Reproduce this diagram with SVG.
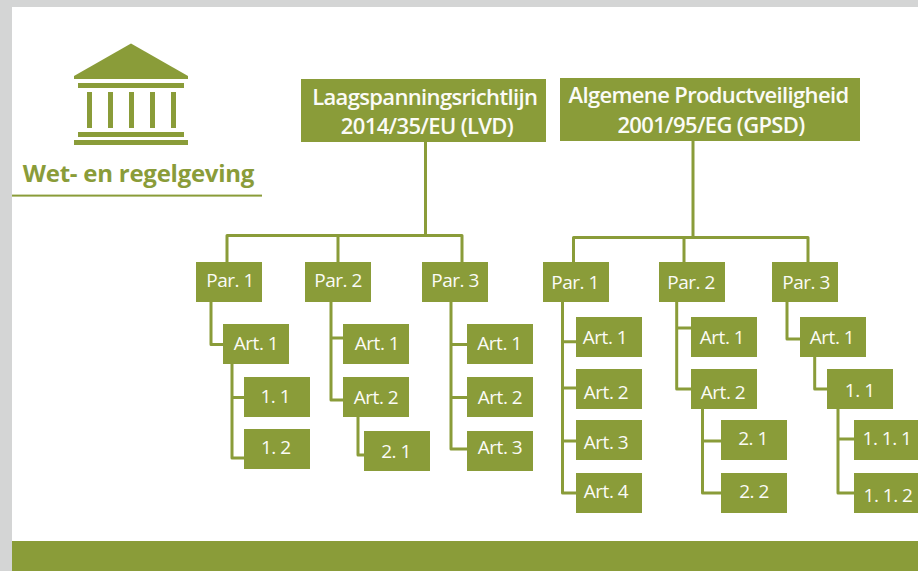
<svg xmlns="http://www.w3.org/2000/svg" width="918" height="571" viewBox="0 0 918 571">
<style>
.b{fill:#8a9c39}
.n text{font-family:"Open Sans","Liberation Sans",sans-serif;font-size:19px;fill:#fbfbf6;text-anchor:middle;letter-spacing:-.5px}
.t text{font-family:"Open Sans","Liberation Sans",sans-serif;font-size:22px;font-weight:600;fill:#fbfbf6;text-anchor:middle;letter-spacing:-.65px}
#connectors path{fill:none;stroke:#8a9c39;stroke-width:3;stroke-linejoin:round}
</style>
<rect width="918" height="571" fill="#d4d5d5"/>
<rect x="12" y="7" width="906" height="564" fill="#fff"/>
<rect class="b" x="12" y="541" width="906" height="30"/>
<g id="icon" class="b">
<polygon points="131,43.5 188,76 188,79 74,79 74,76"/>
<rect x="78" y="83" width="106" height="5"/>
<rect x="87" y="92" width="5" height="36"/><rect x="108" y="92" width="5" height="36"/><rect x="129" y="92" width="5" height="36"/><rect x="150" y="92" width="5" height="36"/><rect x="171" y="92" width="5" height="36"/>
<rect x="78" y="132" width="106" height="5"/>
<rect x="74" y="140" width="114" height="5"/>
</g>
<g id="heading">
<text x="138.5" y="182" font-family="'Open Sans','Liberation Sans',sans-serif" font-size="24" font-weight="700" fill="#8a9c39" text-anchor="middle" letter-spacing="-.25">Wet- en regelgeving</text>
<rect class="b" x="12" y="194.6" width="250" height="2"/>
</g>
<g id="connectors">
<path d="M425.5 141V235.5M227 262V235.5H462V262M338 235.5V262"/>
<path d="M211 302V344.5H223M232 364V458H244M232 397.5H244"/>
<path d="M331 302V400H343M331 338H343M358 417V455H364"/>
<path d="M451 302V449H467M451 344.5H467M451 397.5H467"/>
<path d="M693 141V237.5M573.5 262V237.5H808V262M684 237.5V262"/>
<path d="M562.5 302V493H576M562.5 341.7H576M562.5 388H576M562.5 441H576"/>
<path d="M676.7 302V389H691M676.7 328H691M702.5 409V493H721M702.5 441H721"/>
<path d="M787 302V339H800M814.7 357V389H827M838 409V493H854M838 439H854"/>
</g>
<g id="lvd" class="t"><rect class="b" x="301" y="79" width="245" height="63"/><text x="424.7" y="105">Laagspanningsrichtlijn</text><text x="427" y="134">2014/35/EU (LVD)</text></g>
<g id="gpsd" class="t"><rect class="b" x="560" y="78" width="300" height="63"/><text x="708.5" y="103">Algemene Productveiligheid</text><text x="711" y="133">2001/95/EG (GPSD)</text></g>
<g id="l-par1" class="n"><rect class="b" x="196" y="262" width="66" height="40"/><text x="230" y="287">Par. 1</text></g>
<g id="l-par2" class="n"><rect class="b" x="305" y="262" width="66" height="40"/><text x="338" y="287">Par. 2</text></g>
<g id="l-par3" class="n"><rect class="b" x="422" y="262" width="66" height="40"/><text x="455" y="287">Par. 3</text></g>
<g id="l-p1-art1" class="n"><rect class="b" x="223" y="324" width="66" height="40"/><text x="256" y="350">Art. 1</text></g>
<g id="l-p1-11" class="n"><rect class="b" x="244" y="377" width="66" height="40"/><text x="275.3" y="403">1. 1</text></g>
<g id="l-p1-12" class="n"><rect class="b" x="244" y="429" width="66" height="40"/><text x="275.8" y="454">1. 2</text></g>
<g id="l-p2-art1" class="n"><rect class="b" x="343" y="324" width="66" height="40"/><text x="377" y="350">Art. 1</text></g>
<g id="l-p2-art2" class="n"><rect class="b" x="343" y="377" width="66" height="40"/><text x="376" y="404">Art. 2</text></g>
<g id="l-p2-21" class="n"><rect class="b" x="364" y="431" width="66" height="40"/><text x="396" y="458">2. 1</text></g>
<g id="l-p3-art1" class="n"><rect class="b" x="467" y="324" width="66" height="40"/><text x="499.5" y="350">Art. 1</text></g>
<g id="l-p3-art2" class="n"><rect class="b" x="467" y="377" width="66" height="40"/><text x="500" y="404">Art. 2</text></g>
<g id="l-p3-art3" class="n"><rect class="b" x="467" y="431" width="66" height="40"/><text x="500" y="454">Art. 3</text></g>
<g id="g-par1" class="n"><rect class="b" x="543" y="262" width="66" height="40"/><text x="575" y="289">Par. 1</text></g>
<g id="g-par2" class="n"><rect class="b" x="659" y="262" width="66" height="40"/><text x="691" y="289">Par. 2</text></g>
<g id="g-par3" class="n"><rect class="b" x="772" y="262" width="66" height="40"/><text x="806" y="289">Par. 3</text></g>
<g id="g-p1-art1" class="n"><rect class="b" x="576" y="317" width="66" height="40"/><text x="605" y="344">Art. 1</text></g>
<g id="g-p1-art2" class="n"><rect class="b" x="576" y="369" width="66" height="40"/><text x="606" y="399">Art. 2</text></g>
<g id="g-p1-art3" class="n"><rect class="b" x="576" y="420" width="66" height="40"/><text x="606" y="449">Art. 3</text></g>
<g id="g-p1-art4" class="n"><rect class="b" x="576" y="473" width="66" height="40"/><text x="606" y="498">Art. 4</text></g>
<g id="g-p2-art1" class="n"><rect class="b" x="691" y="317" width="66" height="40"/><text x="722" y="344">Art. 1</text></g>
<g id="g-p2-art2" class="n"><rect class="b" x="691" y="369" width="66" height="40"/><text x="723" y="399">Art. 2</text></g>
<g id="g-p2-21" class="n"><rect class="b" x="721" y="420" width="66" height="40"/><text x="753" y="445">2. 1</text></g>
<g id="g-p2-22" class="n"><rect class="b" x="721" y="473" width="66" height="40"/><text x="754" y="498">2. 2</text></g>
<g id="g-p3-art1" class="n"><rect class="b" x="800" y="317" width="66" height="40"/><text x="832" y="344">Art. 1</text></g>
<g id="g-p3-11" class="n"><rect class="b" x="827" y="369" width="66" height="40"/><text x="859.7" y="397">1. 1</text></g>
<g id="g-p3-111" class="n"><rect class="b" x="854" y="420" width="66" height="40"/><text x="887" y="445">1. 1. 1</text></g>
<g id="g-p3-112" class="n"><rect class="b" x="854" y="473" width="66" height="40"/><text x="888" y="502">1. 1. 2</text></g>
</svg>
